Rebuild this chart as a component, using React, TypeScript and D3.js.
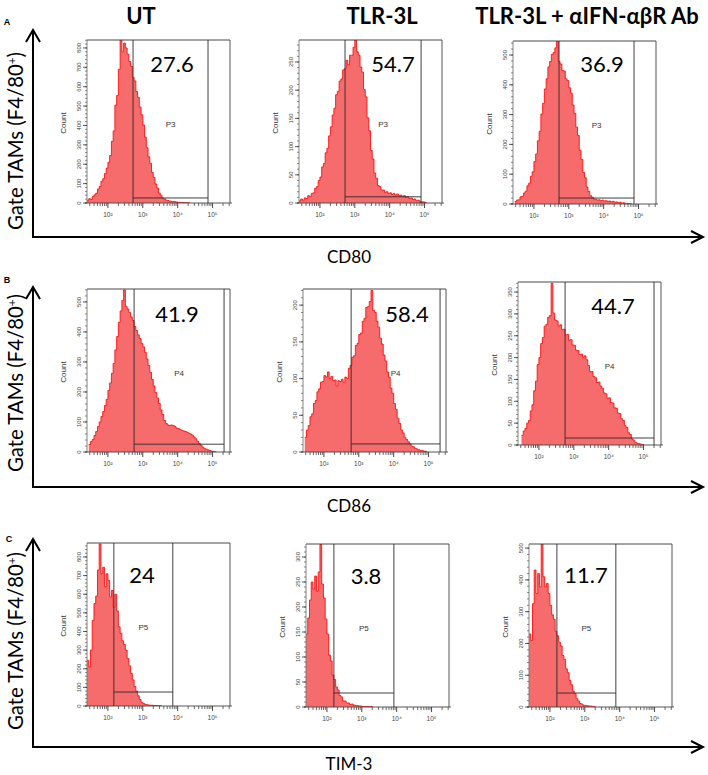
import React from "react";
import * as d3 from "d3";

// ---------- data ----------
const columns = ["UT", "TLR-3L", "TLR-3L + \u03b1IFN-\u03b1\u03b2R Ab"];
const markers = ["CD80", "CD86", "TIM-3"];
const rowLetters = ["A", "B", "C"];
const gateNames = ["P3", "P4", "P5"];
const percents = [
  ["27.6", "54.7", "36.9"],
  ["41.9", "58.4", "44.7"],
  ["24", "3.8", "11.7"],
];
const yMax = [
  [841, 289, 547],
  [543, 222, 373],
  [875, 326, 513],
];
const yStep = [
  [100, 50, 100],
  [100, 50, 50],
  [100, 50, 100],
];
// gate bounds in log10 units, gate level in counts
const gateLo = [
  [2.72, 2.72, 2.72],
  [2.75, 2.78, 2.75],
  [2.17, 2.2, 2.2],
];
const gateHi = [
  [4.87, 4.9, 4.87],
  [5.33, 5.33, 5.3],
  [3.86, 3.92, 3.89],
];
const gateLevel = [
  [26, 11, 20],
  [26, 11, 16],
  [75, 28, 44],
];
const xTickDecades = [2, 3, 4, 5];
const xTickLabels = ["10\u00b2", "10\u00b3", "10\u2074", "10\u2075"];
const binWidth = 0.05;
const binStart = [
  [1.4, 1.4, 1.45],
  [1.45, 1.45, 1.5],
  [1.4, 1.4, 1.4],
];
const countsUT_CD80 = [14,22,18,33,42,50,72,85,112,125,152,180,210,245,318,372,505,555,690,850,780,825,800,768,730,705,648,630,575,545,495,455,402,340,285,238,205,158,132,98,77,52,40,25,21,15,13,10,9,8,7,5,4,3,3,2,2,1,1,0];
const countsTLR_CD80 = [4,7,5,9,8,13,11,17,18,26,29,40,46,64,70,89,97,119,135,156,168,192,198,216,220,236,238,253,245,262,262,276,289,268,262,241,232,201,188,151,128,93,78,53,44,31,29,23,23,19,20,17,18,15,17,14,16,13,14,12,13,10,11,8,9,6,7,4,5,3,2,2,1,0];
const countsAb_CD80 = [8,13,14,24,26,37,43,61,70,93,108,142,168,212,244,302,338,386,420,460,478,502,508,524,548,478,470,448,446,420,414,390,372,332,304,258,230,180,150,106,88,57,42,28,23,17,16,13,14,11,13,10,11,9,10,7,9,6,7,4,6,3,4,2,2,1,1,0];
const countsUT_CD86 = [25,35,42,55,68,85,100,118,135,155,175,205,230,262,295,340,385,432,470,505,540,485,476,465,450,438,418,405,390,378,362,350,332,310,288,265,242,220,198,180,162,140,125,105,95,90,88,90,88,85,80,78,75,72,70,68,66,63,60,56,50,44,36,28,22,16,12,9,7,5,3,2,1,0];
const countsTLR_CD86 = [20,30,36,48,52,66,70,82,86,95,96,104,102,109,100,103,97,98,90,97,96,99,95,102,100,114,118,129,131,145,148,160,162,178,182,197,198,205,220,193,190,178,170,155,147,132,124,109,102,87,80,66,58,46,39,30,26,20,17,14,11,8,7,5,4,3,2,2,1,1,0];
const countsAb_CD86 = [22,32,38,50,56,78,92,124,146,184,200,232,246,272,276,292,296,370,302,286,284,272,275,264,265,252,253,240,241,229,228,217,216,207,208,201,204,195,182,168,168,157,154,143,144,135,130,119,117,107,108,97,96,85,84,73,72,60,56,44,40,28,24,14,11,6,4,3,2,1,0];
const countsUT_TIM3 = [245,210,300,460,550,590,730,870,710,745,640,710,675,585,620,530,600,510,425,390,350,330,300,255,215,175,140,105,80,55,35,20,13,9,7,5,4,4,3,3,2,2,1,0];
const countsTLR_TIM3 = [146,178,214,250,236,262,232,270,325,246,218,176,146,104,92,64,55,40,34,23,20,12,12,8,8,5,6,4,3,3,2,2,1,1,1,1,1,1,0];
const countsAb_TIM3 = [230,209,325,431,357,420,378,514,410,378,389,357,320,290,276,238,224,204,192,162,150,120,108,84,70,50,42,26,19,11,9,5,5,4,3,3,2,1,0];
const allCounts = [
  [countsUT_CD80, countsTLR_CD80, countsAb_CD80],
  [countsUT_CD86, countsTLR_CD86, countsAb_CD86],
  [countsUT_TIM3, countsTLR_TIM3, countsAb_TIM3],
];

// ---------- layout ----------
const W = 708;
const H = 775;
const PW = 143;
const PH = 163;
const X_DOMAIN = [1.4, 5.5];
const PANEL_POS = [
  [[87, 40], [299, 40], [513, 41]],
  [[87, 289], [303, 289], [518, 282]],
  [[87, 543], [306, 544], [529, 544]],
];
const ROW_AXIS = [
  { top: 30, base: 237, label: 256, mid: 141, letter: [7, 22] },
  { top: 287, base: 487, label: 505, mid: 383, letter: [7, 280] },
  { top: 539, base: 747, label: 763, mid: 641, letter: [9, 539] },
];
const AXIS_X = 33;
const ARROW_END = 703;
const TITLE_X = [141, 382, 587];
const PCT_POS = [
  [[85, 23], [94, 23], [89, 22]],
  [[90, 24], [104, 24], [95, 23]],
  [[55, 31], [60, 31], [57, 30]],
];
const FILL = "#f66b6b";
const LINE = "#ff1010";

function Panel({ r, c }: { r: number; c: number }) {
  const [left, top] = PANEL_POS[r][c];
  const bottom = top + PH;
  const x = d3.scaleLinear().domain(X_DOMAIN).range([left, left + PW]);
  const y = d3.scaleLinear().domain([0, yMax[r][c]]).range([bottom, top]);
  const start = binStart[r][c];
  const pts: [number, number][] = allCounts[r][c].map((v, i) => [start + i * binWidth, v]);
  const area = d3
    .area<[number, number]>()
    .x((d) => x(d[0]))
    .y0(bottom)
    .y1((d) => y(d[1]))
    .curve(d3.curveStepAfter);
  const line = d3
    .line<[number, number]>()
    .x((d) => x(d[0]))
    .y((d) => y(d[1]))
    .curve(d3.curveStepAfter);
  const clipId = `clip-${r}-${c}`;

  const minorX: number[] = [];
  for (let d = 1; d <= 5; d++) {
    for (let k = 2; k <= 9; k++) {
      const v = d + Math.log10(k);
      if (v > X_DOMAIN[0] && v < X_DOMAIN[1]) minorX.push(v);
    }
  }
  const step = yStep[r][c];
  const majorY = d3.range(0, yMax[r][c] + 0.001, step);
  const minorY = d3.range(0, yMax[r][c] + 0.001, step / 5);

  const gl = x(gateLo[r][c]);
  const gh = x(gateHi[r][c]);
  const gy = y(gateLevel[r][c]);
  const [px, py] = PCT_POS[r][c];

  return (
    <g>
      <defs>
        <clipPath id={clipId}>
          <rect x={left} y={top} width={PW} height={PH} />
        </clipPath>
      </defs>
      <g clipPath={`url(#${clipId})`}>
        <path d={area(pts) || ""} fill={FILL} stroke="none" />
        <path d={line(pts) || ""} fill="none" stroke={LINE} strokeWidth={0.9} />
      </g>
      {/* frame */}
      <line x1={left} y1={top} x2={left + PW} y2={top} stroke="#333" strokeWidth={0.9} />
      <line x1={left + PW} y1={top} x2={left + PW} y2={bottom} stroke="#444" strokeWidth={0.9} />
      <line x1={left} y1={top} x2={left} y2={bottom} stroke="#777" strokeWidth={0.9} />
      <line x1={left - 2} y1={bottom} x2={left + PW + 2} y2={bottom} stroke="#444" strokeWidth={0.9} />
      {/* gate */}
      <line x1={gl} y1={top} x2={gl} y2={bottom} stroke="#2a2a2a" strokeWidth={0.9} />
      <line x1={gh} y1={top} x2={gh} y2={bottom} stroke="#2a2a2a" strokeWidth={0.9} />
      <line x1={gl} y1={gy} x2={gh} y2={gy} stroke="#2a2a2a" strokeWidth={0.9} />
      <text
        x={(gl + gh) / 2}
        y={top + 84}
        fontFamily="Liberation Sans, Arial, sans-serif"
        fontSize={8}
        fill="#333"
        textAnchor="middle"
        dominantBaseline="central"
      >
        {gateNames[r]}
      </text>
      <text
        x={left + px}
        y={top + py}
        fontFamily="Lato, sans-serif"
        fontSize={22}
        fill="#000"
        textAnchor="middle"
        dominantBaseline="central"
      >
        {percents[r][c]}
      </text>
      {/* x ticks */}
      {minorX.map((v, i) => (
        <line key={"mx" + i} x1={x(v)} x2={x(v)} y1={bottom} y2={bottom + 3} stroke="#444" strokeWidth={0.8} />
      ))}
      {xTickDecades.map((d, i) => (
        <g key={"Mx" + i}>
          <line x1={x(d)} x2={x(d)} y1={bottom} y2={bottom + 5} stroke="#333" strokeWidth={0.9} />
          <text
            x={x(d)}
            y={bottom + 11}
            fontFamily="Liberation Sans, Arial, sans-serif"
            fontSize={6.5}
            fill="#444"
            textAnchor="middle"
            dominantBaseline="central"
          >
            {xTickLabels[i]}
          </text>
        </g>
      ))}
      {/* y ticks */}
      {minorY.map((v, i) => (
        <line key={"my" + i} x1={left - 2} x2={left} y1={y(v)} y2={y(v)} stroke="#555" strokeWidth={0.7} />
      ))}
      {majorY.map((v, i) => (
        <g key={"My" + i}>
          <line x1={left - 4} x2={left} y1={y(v)} y2={y(v)} stroke="#333" strokeWidth={0.8} />
          <text
            transform={`translate(${left - 8},${y(v)}) rotate(-90)`}
            fontFamily="Liberation Sans, Arial, sans-serif"
            fontSize={6}
            fill="#444"
            textAnchor="middle"
            dominantBaseline="central"
          >
            {v}
          </text>
        </g>
      ))}
      <text
        transform={`translate(${left - 24},${top + 83}) rotate(-90)`}
        fontFamily="Liberation Sans, Arial, sans-serif"
        fontSize={8}
        fill="#333"
        textAnchor="middle"
        dominantBaseline="central"
      >
        Count
      </text>
    </g>
  );
}

export default function App() {
  return (
    <svg
      width={W}
      height={H}
      viewBox={`0 0 ${W} ${H}`}
      style={{ position: "absolute", left: 0, top: 0, background: "#fff" }}
    >
      <rect x={0} y={0} width={W} height={H} fill="#fff" />
      {columns.map((t, i) => (
        <text
          key={t}
          x={TITLE_X[i]}
          y={15}
          fontFamily="Lato, sans-serif"
          fontWeight={700}
          fontSize={22}
          textAnchor="middle"
          dominantBaseline="central"
          fill="#000"
        >
          {t}
        </text>
      ))}
      {ROW_AXIS.map((ra, r) => (
        <g key={"row" + r}>
          <text
            x={ra.letter[0]}
            y={ra.letter[1]}
            fontFamily="Liberation Sans, Arial, sans-serif"
            fontWeight={700}
            fontSize={9}
            textAnchor="middle"
            dominantBaseline="central"
          >
            {rowLetters[r]}
          </text>
          <line x1={AXIS_X} y1={ra.top + 1} x2={AXIS_X} y2={ra.base} stroke="#000" strokeWidth={2} />
          <line x1={AXIS_X - 1} y1={ra.base} x2={ARROW_END - 1} y2={ra.base} stroke="#000" strokeWidth={2} />
          <polyline
            points={`${AXIS_X - 7},${ra.top + 12} ${AXIS_X},${ra.top} ${AXIS_X + 7},${ra.top + 12}`}
            fill="none"
            stroke="#000"
            strokeWidth={2}
          />
          <polyline
            points={`${ARROW_END - 12},${ra.base - 6} ${ARROW_END},${ra.base} ${ARROW_END - 12},${ra.base + 6}`}
            fill="none"
            stroke="#000"
            strokeWidth={2}
          />
          <text
            transform={`translate(23,${ra.mid}) rotate(-90)`}
            fontFamily="Lato, sans-serif"
            fontSize={21}
            textAnchor="middle"
            fill="#000"
            textLength={178}
            lengthAdjust="spacingAndGlyphs"
          >
            Gate TAMs (F4/80
            <tspan fontSize={12} baselineShift="super">+</tspan>)
          </text>
          <text
            x={349}
            y={ra.label}
            fontFamily="Lato, sans-serif"
            fontSize={17}
            textAnchor="middle"
            dominantBaseline="central"
            fill="#000"
          >
            {markers[r]}
          </text>
          {[0, 1, 2].map((c) => (
            <Panel key={c} r={r} c={c} />
          ))}
        </g>
      ))}
    </svg>
  );
}
